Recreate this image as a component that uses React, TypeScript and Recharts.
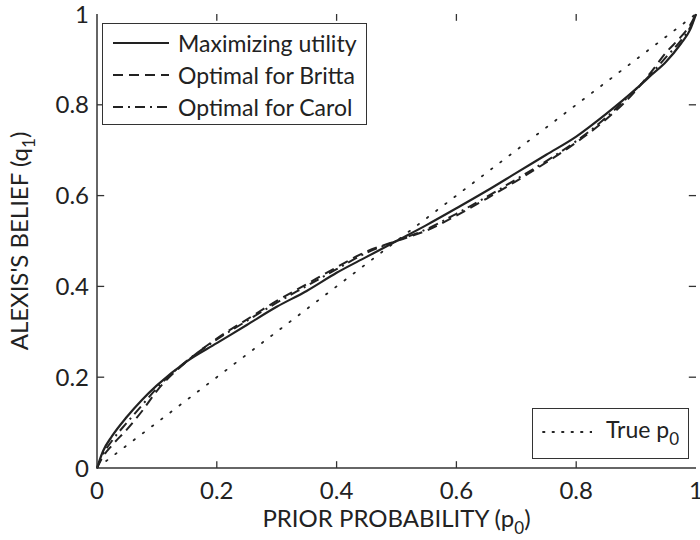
import React from 'react';
import { LineChart, Line, XAxis, YAxis, Legend, Label, ReferenceLine } from 'recharts';

const FONT = 'Lato, "Open Sans", sans-serif';
const INK = '#222';

// prior probability p0 (x) and Alexis's belief q1 for each strategy
const priorP = [0, 0.01, 0.025, 0.05, 0.075, 0.1, 0.15, 0.2, 0.25, 0.3, 0.35, 0.4, 0.45, 0.5, 0.55, 0.6, 0.65, 0.7, 0.75, 0.8, 0.85, 0.9, 0.925, 0.95, 0.975, 0.99, 1];
const maxUtility = [0, 0.037, 0.07, 0.113, 0.15, 0.182, 0.235, 0.275, 0.315, 0.355, 0.39, 0.43, 0.465, 0.5, 0.535, 0.572, 0.61, 0.65, 0.69, 0.73, 0.78, 0.835, 0.865, 0.895, 0.935, 0.965, 1];
const optBritta = [0, 0.025, 0.05, 0.085, 0.125, 0.17, 0.235, 0.285, 0.327, 0.368, 0.405, 0.442, 0.477, 0.5, 0.523, 0.556, 0.593, 0.632, 0.673, 0.717, 0.768, 0.832, 0.872, 0.915, 0.95, 0.975, 1];
const optCarol = [0, 0.03, 0.06, 0.1, 0.138, 0.176, 0.236, 0.283, 0.324, 0.364, 0.401, 0.438, 0.474, 0.5, 0.526, 0.56, 0.597, 0.636, 0.676, 0.72, 0.772, 0.835, 0.868, 0.905, 0.942, 0.97, 1];
const tickValues = [0, 0.2, 0.4, 0.6, 0.8, 1];
const innerTicks = [0.2, 0.4, 0.6, 0.8];

const data = priorP.map((p, i) => ({
  p,
  maxUtility: maxUtility[i],
  britta: optBritta[i],
  carol: optCarol[i],
  truth: p,
}));

const series = [
  { key: 'maxUtility', name: 'Maximizing utility', dash: undefined as string | undefined },
  { key: 'britta', name: 'Optimal for Britta', dash: '10 6' },
  { key: 'carol', name: 'Optimal for Carol', dash: '10 5 2 5' },
];

const fmt = (v: number) => String(v);

const XLabel = (props: any) => {
  const vb = props.viewBox;
  const cx = vb.x + vb.width / 2;
  return (
    <text x={cx} y={527} textAnchor="middle" fontFamily={FONT} fontSize={24} fill={INK}>
      PRIOR PROBABILITY (p<tspan dy={7} fontSize={17}>0</tspan><tspan dy={-7}>)</tspan>
    </text>
  );
};

const YLabel = (props: any) => {
  const vb = props.viewBox;
  const cy = vb.y + vb.height / 2;
  return (
    <text x={28} y={cy} transform={`rotate(-90, 28, ${cy})`} textAnchor="middle" fontFamily={FONT} fontSize={24} fill={INK}>
      ALEXIS'S BELIEF (q<tspan dy={7} fontSize={17}>1</tspan><tspan dy={-7}>)</tspan>
    </text>
  );
};

const LegendBoxes = () => (
  <div style={{ position: 'relative', width: 700, height: 540, fontFamily: FONT, fontSize: 23, color: INK }}>
    <div style={{ position: 'absolute', left: 102, top: 23, width: 265, height: 102, border: '1.5px solid #333', background: '#fff', boxSizing: 'border-box' }}>
      {series.map((s, i) => (
        <div key={s.key} style={{ position: 'absolute', left: 10, top: 4 + i * 32, height: 30, display: 'flex', alignItems: 'center', whiteSpace: 'nowrap' }}>
          <svg width={56} height={10}>
            <line x1={0} x2={56} y1={5} y2={5} stroke={INK} strokeWidth={2} strokeDasharray={s.dash} />
          </svg>
          <span style={{ marginLeft: 9 }}>{s.name}</span>
        </div>
      ))}
    </div>
    <div style={{ position: 'absolute', left: 532, top: 408, width: 157, height: 51, border: '1.5px solid #333', background: '#fff', boxSizing: 'border-box' }}>
      <div style={{ position: 'absolute', left: 9, top: 8, height: 30, display: 'flex', alignItems: 'center', whiteSpace: 'nowrap' }}>
        <svg width={50} height={10}>
          <line x1={1} x2={50} y1={5} y2={5} stroke={INK} strokeWidth={1.8} strokeDasharray="1.5 8" strokeLinecap="round" />
        </svg>
        <span style={{ marginLeft: 14 }}>
          True p<sub style={{ fontSize: 17, verticalAlign: '-7px' }}>0</sub>
        </span>
      </div>
    </div>
  </div>
);

export default function App() {
  return (
    <div style={{ position: 'absolute', left: 0, top: 0, background: '#fff' }}>
      <LineChart width={700} height={540} data={data} margin={{ top: 14, right: 4, bottom: 0, left: 0 }}>
        <XAxis
          dataKey="p"
          type="number"
          domain={[0, 1]}
          ticks={tickValues}
          interval={0}
          tickFormatter={fmt}
          height={72}
          tickLine={false}
          tickSize={0}
          tickMargin={14}
          stroke="#333"
          strokeWidth={1.5}
          tick={{ fill: INK, fontFamily: FONT, fontSize: 24 }}
        >
          <Label content={XLabel} />
        </XAxis>
        <XAxis xAxisId="top" orientation="top" dataKey="p" type="number" domain={[0, 1]} ticks={tickValues} height={0} tickLine={false} tick={false} stroke="#333" strokeWidth={1.5} />
        <YAxis
          type="number"
          domain={[0, 1]}
          ticks={tickValues}
          interval={0}
          tickFormatter={fmt}
          width={97}
          tickLine={false}
          tickSize={0}
          tickMargin={8}
          stroke="#333"
          strokeWidth={1.5}
          tick={{ fill: INK, fontFamily: FONT, fontSize: 24 }}
        >
          <Label content={YLabel} />
        </YAxis>
        <YAxis yAxisId="right" orientation="right" type="number" domain={[0, 1]} ticks={tickValues} width={0} tickLine={false} tick={false} stroke="#333" strokeWidth={1.5} />
        {innerTicks.map((t) => (
          <ReferenceLine key={`b${t}`} segment={[{ x: t, y: 0 }, { x: t, y: 0.015 }]} stroke="#333" strokeWidth={1.3} />
        ))}
        {innerTicks.map((t) => (
          <ReferenceLine key={`t${t}`} segment={[{ x: t, y: 1 }, { x: t, y: 0.985 }]} stroke="#333" strokeWidth={1.3} />
        ))}
        {innerTicks.map((t) => (
          <ReferenceLine key={`l${t}`} segment={[{ x: 0, y: t }, { x: 0.012, y: t }]} stroke="#333" strokeWidth={1.3} />
        ))}
        {innerTicks.map((t) => (
          <ReferenceLine key={`r${t}`} segment={[{ x: 1, y: t }, { x: 0.988, y: t }]} stroke="#333" strokeWidth={1.3} />
        ))}
        <Line dataKey="truth" type="linear" stroke={INK} strokeWidth={1.8} strokeDasharray="1.5 10" strokeLinecap="round" dot={false} isAnimationActive={false} />
        <Line dataKey="carol" type="monotone" stroke={INK} strokeWidth={2} strokeDasharray="10 5 2 5" dot={false} isAnimationActive={false} />
        <Line dataKey="britta" type="monotone" stroke={INK} strokeWidth={2} strokeDasharray="10 6" dot={false} isAnimationActive={false} />
        <Line dataKey="maxUtility" type="monotone" stroke={INK} strokeWidth={2.2} dot={false} isAnimationActive={false} />
        <Legend
          layout="horizontal"
          verticalAlign="middle"
          align="center"
          wrapperStyle={{ left: 0, top: 0, width: 700, height: 540, pointerEvents: 'none' }}
          content={LegendBoxes}
        />
      </LineChart>
    </div>
  );
}
